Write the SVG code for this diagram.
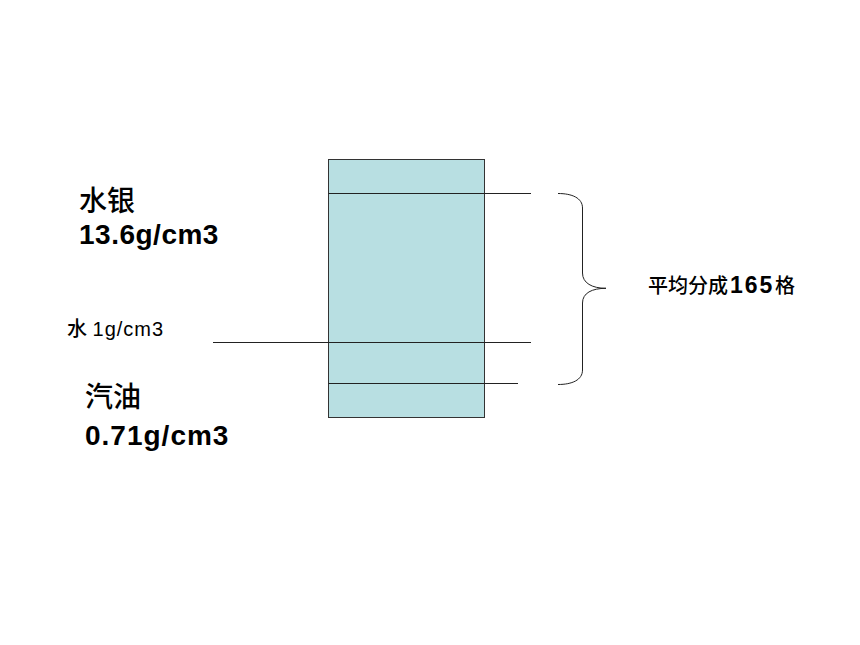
<svg xmlns="http://www.w3.org/2000/svg" width="860" height="645" viewBox="0 0 860 645">
<style>
.ln{stroke:#222;stroke-width:1;fill:none}
.t{font-family:"Liberation Sans","Noto Sans CJK SC",sans-serif;fill:#000}
.cjk{font-weight:500}
.big{font-size:28px}
.b{font-weight:bold}
</style>
<rect width="860" height="645" fill="#fff"/>
<g id="tube">
<rect x="328.5" y="159.5" width="156" height="258" fill="#b8dfe2" stroke="#333" stroke-width="1"/>
</g>
<g id="connectors">
<line class="ln" x1="328.5" y1="193.5" x2="531" y2="193.5"/>
<line class="ln" x1="213" y1="342.5" x2="531" y2="342.5"/>
<line class="ln" x1="328.5" y1="383.5" x2="518" y2="383.5"/>
<path class="ln" d="M558,193.5 C572,193.5 582.5,198 582.5,208 L582.5,273 C582.5,283 592,288.3 606,288.3 C592,288.3 582.5,293 582.5,303 L582.5,370 C582.5,380 572,384.5 558,384.5"/>
</g>
<g id="mercury">
<text class="t big cjk" x="79" y="211">水银</text>
<text class="t big b" x="79" y="244" letter-spacing="0.5">13.6g/cm3</text>
</g>
<g id="water">
<text class="t" x="67" y="336" font-size="20"><tspan class="cjk">水</tspan> <tspan letter-spacing="1">1g/cm3</tspan></text>
</g>
<g id="gasoline">
<text class="t big cjk" x="85" y="407">汽油</text>
<text class="t big b" x="85" y="445" letter-spacing="1">0.71g/cm3</text>
</g>
<g id="divide">
<text class="t" y="293" font-size="20"><tspan x="648" class="cjk">平均分成</tspan><tspan x="730" class="b" font-size="23" letter-spacing="2">165</tspan><tspan x="775" class="cjk">格</tspan></text>
</g>
</svg>
